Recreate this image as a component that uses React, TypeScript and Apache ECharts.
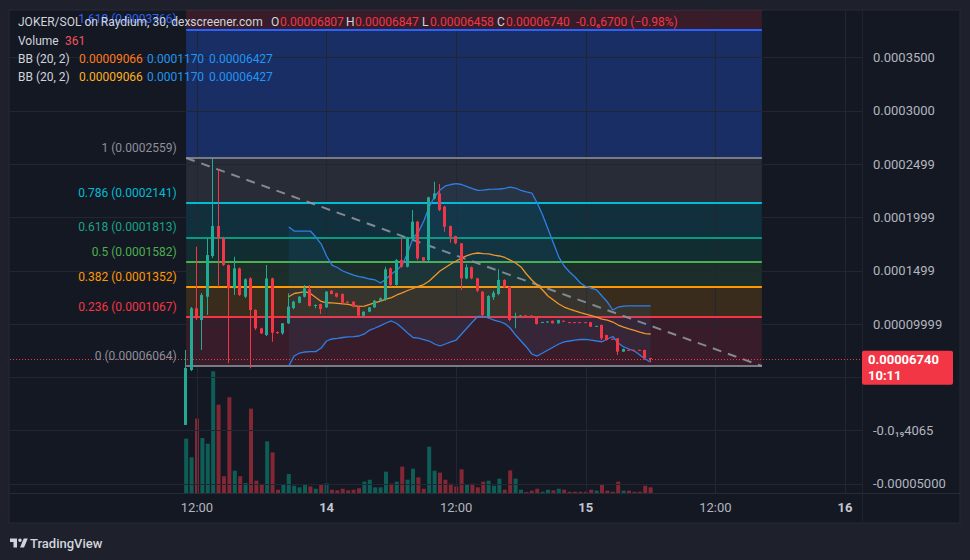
import React, { useEffect, useRef } from "react";
import * as echarts from "echarts";

const FONT = "Roboto, 'Noto Sans', 'DejaVu Sans', sans-serif";
const E5 = 1e-5; // all price arrays below are in units of 1e-5

// ---- time layout (hours since 13th 00:00) ----
const FIRST_CANDLE_HOUR = 11;
const CANDLE_HOURS = 0.5;
const X_MIN = -5.31;
const X_MAX = 73.57;
const Y_MIN = -5.857e-5;
const Y_MAX = 39.48e-5;

const TIME_TICKS = [12, 24, 36, 48, 60, 72];
const TIME_LABELS = ["12:00", "14", "12:00", "15", "12:00", "16"];
const PRICE_TICKS = [-0.00005, 0, 0.00005, 0.0001, 0.00015, 0.0002, 0.00025, 0.0003, 0.00035];
const PRICE_LABELS = ["-0.00005000", "-0.0\u2081\u20894065", "", "0.00009999", "0.0001499", "0.0001999", "0.0002499", "0.0003000", "0.0003500"];

// ---- candles (x1e-5) ----
const opensE5 = [0.53, 5.69, 11.48, 10.38, 12.57, 16.39, 19.2, 18.05, 15.54, 13.36,
  15.23, 12.57, 14.29, 11.32, 9.6, 8.97, 14.29, 9.25, 9.13, 10.07,
  11.5, 12.0, 12.57, 13.28, 11.75, 11.88, 11.57, 13.13, 12.89, 12.82,
  12.1, 12.1, 11.63, 10.78, 11.16, 11.57, 12.19, 12.32, 15.23, 13.67,
  16.01, 15.38, 18.0, 19.61, 16.27, 16.01, 21.8, 22.27, 21.02, 19.2,
  18.27, 17.58, 14.29, 15.33, 14.29, 13.04, 10.69, 12.51, 12.82, 14.14,
  13.51, 10.62, 10.79, 10.81, 10.8, 10.57, 10.17, 10.15, 10.31, 10.07,
  10.31, 10.18, 10.18, 10.18, 10.18, 10.17, 9.81, 9.91, 8.97, 8.62,
  8.66, 7.41, 7.58, 7.58, 7.58, 7.57, 6.807];
const highsE5 = [7.57, 11.6, 17.26, 12.92, 18.05, 25.59, 24.46, 18.2, 15.6, 16.32,
  15.3, 14.3, 14.4, 11.4, 9.65, 15.54, 14.35, 9.3, 10.1, 12.89,
  12.2, 12.6, 13.67, 13.67, 11.85, 11.9, 13.1, 13.2, 12.95, 12.9,
  12.15, 12.15, 11.7, 11.2, 11.6, 12.25, 12.5, 15.38, 15.3, 16.1,
  18.05, 18.2, 20.71, 19.7, 16.3, 21.95, 23.36, 23.15, 21.1, 19.25,
  18.3, 17.6, 15.61, 15.4, 14.35, 13.1, 12.7, 13.13, 15.14, 14.2,
  13.55, 11.07, 10.85, 10.84, 10.82, 10.6, 10.22, 10.27, 10.33, 10.4,
  10.33, 10.2, 10.2, 10.2, 10.2, 10.2, 9.85, 9.95, 9.0, 8.65,
  8.7, 7.7, 7.6, 7.6, 7.6, 7.6, 6.847];
const lowsE5 = [0.53, 5.6, 10.38, 7.57, 10.85, 16.2, 13.51, 15.45, 6.32, 12.73,
  12.63, 12.45, 5.85, 9.44, 9.07, 8.88, 8.34, 9.07, 9.0, 10.0,
  11.4, 11.95, 12.5, 11.65, 11.48, 10.94, 11.5, 12.8, 12.5, 11.9,
  11.95, 11.55, 10.57, 10.7, 11.1, 11.5, 12.1, 12.2, 13.5, 13.6,
  15.3, 15.3, 17.9, 16.0, 15.9, 15.9, 21.7, 20.6, 18.67, 17.64,
  17.5, 13.2, 14.2, 14.2, 13.0, 10.7, 10.54, 12.26, 12.7, 13.4,
  10.29, 9.6, 10.75, 10.76, 10.75, 9.95, 10.15, 10.12, 10.05, 10.05,
  10.22, 10.15, 10.15, 10.15, 10.15, 9.72, 9.78, 8.5, 8.45, 8.58,
  7.1, 7.38, 7.54, 7.54, 7.54, 6.65, 6.458];
const closesE5 = [5.88, 11.48, 10.54, 12.73, 16.48, 19.2, 18.05, 15.54, 13.36, 15.23,
  12.73, 14.2, 11.32, 9.6, 9.13, 14.29, 9.19, 9.15, 10.07, 11.63,
  12.1, 12.57, 13.36, 11.7, 11.79, 11.41, 13.04, 12.82, 12.57, 12.0,
  12.02, 11.63, 10.78, 11.16, 11.57, 12.19, 12.42, 15.14, 13.67, 16.01,
  15.38, 18.14, 19.61, 16.17, 15.95, 21.9, 22.27, 20.71, 19.14, 18.2,
  17.58, 14.29, 15.33, 14.29, 13.13, 10.85, 12.63, 12.94, 14.14, 13.45,
  10.38, 10.72, 10.81, 10.79, 10.78, 10.01, 10.19, 10.24, 10.07, 10.38,
  10.24, 10.17, 10.17, 10.17, 10.17, 9.75, 9.83, 8.66, 8.5, 8.6,
  7.41, 7.66, 7.56, 7.56, 7.56, 6.81, 6.74];
const volumes = [3440, 2260, 4710, 3480, 3120, 7700, 5590, 1060, 6060, 1410,
  1060, 630, 5340, 780, 530, 3270, 2570, 210, 530, 1200,
  460, 360, 530, 420, 270, 530, 610, 210, 170, 270,
  170, 210, 300, 720, 840, 360, 360, 1350, 590, 720,
  1670, 840, 1540, 990, 270, 2930, 1410, 1290, 840, 590,
  420, 1500, 530, 590, 360, 720, 780, 460, 910, 210,
  1430, 910, 210, 60, 150, 270, 80, 210, 170, 270,
  210, 80, 80, 80, 80, 210, 150, 530, 150, 80,
  720, 150, 150, 80, 80, 460, 361];

// ---- Bollinger Bands (20, 2), from candle index 19 (x1e-5) ----
const BB_FIRST = 19;
const bbUpperE5 = [19.11, 18.73, 18.73, 18.73, 18.73, 18.17, 17.51, 16.39, 15.54, 15.31,
  14.98, 14.79, 14.6, 14.46, 14.37, 14.23, 14.14, 13.85, 14.23, 14.7,
  15.07, 15.54, 16.67, 18.08, 18.64, 19.67, 20.99, 21.97, 22.58, 22.96,
  23.1, 23.19, 23.1, 22.91, 22.72, 22.54, 22.58, 22.65, 22.66, 22.68,
  22.74, 22.86, 22.77, 22.54, 22.4, 22.3, 21.36, 20.24, 18.92, 17.61,
  16.29, 15.45, 14.89, 14.42, 13.85, 13.53, 13.38, 13.2, 12.63, 12.07,
  11.32, 11.6, 11.69, 11.7, 11.7, 11.7, 11.7, 11.7];
const bbBasisE5 = [12.57, 12.87, 12.96, 13.04, 12.87, 12.49, 12.12, 12.0, 11.98, 11.95,
  11.9, 11.84, 11.74, 11.67, 11.69, 11.84, 12.02, 12.16, 12.35, 12.49,
  12.73, 12.92, 13.15, 13.34, 13.53, 13.71, 14.04, 14.51, 14.98, 15.31,
  15.64, 15.92, 16.2, 16.43, 16.58, 16.67, 16.62, 16.58, 16.48, 16.39,
  16.25, 16.01, 15.73, 15.36, 14.7, 14.14, 13.67, 13.2, 12.63, 12.26,
  11.88, 11.6, 11.41, 11.23, 11.08, 10.94, 10.8, 10.66, 10.47, 10.38,
  10.19, 9.91, 9.72, 9.54, 9.4, 9.25, 9.11, 9.066];
const bbLowerE5 = [6.06, 7.0, 7.28, 7.38, 7.41, 7.41, 7.75, 8.41, 8.6, 8.66,
  8.74, 8.8, 8.83, 8.88, 9.07, 9.44, 9.63, 9.86, 10.1, 10.29,
  10.05, 9.63, 9.16, 8.74, 8.69, 8.55, 8.41, 8.13, 7.94, 8.13,
  8.32, 8.5, 9.07, 9.63, 10.19, 10.71, 10.71, 10.57, 10.38, 10.24,
  10.05, 9.63, 8.97, 8.41, 7.85, 7.19, 7.0, 7.28, 7.57, 7.85,
  8.13, 8.32, 8.41, 8.5, 8.55, 8.57, 8.5, 8.41, 8.34, 8.6,
  8.83, 8.22, 7.85, 7.66, 7.47, 7.1, 6.72, 6.427];

// ---- Fibonacci retracement ----
const FIB_START = 11;
const FIB_END = 64.3;
const FIB_RATIOS = [0, 0.236, 0.382, 0.5, 0.618, 0.786, 1, 1.618, 2.618];
const FIB_PRICES = [0.00006064, 0.0001067, 0.0001352, 0.0001582, 0.0001813, 0.0002141, 0.0002559, 0.0003766, 0.0005718];
const FIB_COLORS = ["#787b86", "#f23645", "#ff9800", "#4caf50", "#089981", "#00bcd4", "#787b86", "#2962ff", "#f23645"];
const FIB_FILLS = ["", "rgba(242,54,69,0.17)", "rgba(255,152,0,0.16)", "rgba(76,175,80,0.15)", "rgba(8,153,129,0.16)", "rgba(0,188,212,0.15)", "rgba(120,123,134,0.2)", "rgba(41,98,255,0.3)", "rgba(242,54,69,0.17)"];
const FIB_TEXT_COLORS = ["#8d909a", "#f23645", "#ff9800", "#4caf50", "#1aa38a", "#00bcd4", "#8d909a", "#2f66f0", "#f23645"];

const COUNTDOWN = "10:11";
const CHANGE_TEXT = "-0.0\u20866700 (\u22120.98%)";

const UP = "#22ab94";
const DOWN = "#f23645";
const VOL_UP = "rgba(8,153,129,0.55)";
const VOL_DOWN = "rgba(242,54,69,0.5)";
const GRID_COLOR = "#222632";
const TV_LOGO_D = "M14 22H7V11H0V4h14v18zM28 22h-8l7.5-18h8L28 22zM20 4a3.5 3.5 0 1 1 0 7a3.5 3.5 0 1 1 0-7z";

const candleTime = (i: number) => FIRST_CANDLE_HOUR + i * CANDLE_HOURS;

export default function App() {
  const ref = useRef<HTMLDivElement>(null);
  useEffect(() => {
    if (!ref.current) return;
    try {
      echarts.graphic.registerShape("tvlogo", echarts.graphic.extendPath(TV_LOGO_D, {}));
    } catch (e) {}
    const chart = echarts.init(ref.current, null, { renderer: "svg" });

    const candleData = opensE5.map((o, i) => [candleTime(i), o * E5, closesE5[i] * E5, lowsE5[i] * E5, highsE5[i] * E5]);
    const volData = volumes.map((v, i) => ({
      value: [candleTime(i), v],
      itemStyle: { color: closesE5[i] >= opensE5[i] ? VOL_UP : VOL_DOWN },
    }));
    const bbLine = (arr: number[]) => arr.map((v, k) => [candleTime(BB_FIRST + k), v * E5]);

    const fibBands: any[] = [];
    for (let i = 1; i < FIB_PRICES.length; i++) {
      fibBands.push([
        { xAxis: FIB_START, yAxis: Math.min(FIB_PRICES[i], Y_MAX), itemStyle: { color: FIB_FILLS[i] } },
        { xAxis: FIB_END, yAxis: FIB_PRICES[i - 1] },
      ]);
    }
    const fibLines: any[] = [];
    for (let i = 0; i < 8; i++) {
      fibLines.push([
        { coord: [FIB_START, FIB_PRICES[i]], lineStyle: { color: FIB_COLORS[i], width: 2, type: "solid" } },
        { coord: [FIB_END, FIB_PRICES[i]] },
      ]);
    }
    fibLines.push([
      { coord: [FIB_START, FIB_PRICES[6]], lineStyle: { color: "rgba(150,153,161,0.85)", width: 2, type: [9, 7] } },
      { coord: [FIB_END, FIB_PRICES[0]] },
    ]);

    const last = closesE5.length - 1;
    const lastClose = closesE5[last] * E5;

    const option: any = {
      animation: false,
      backgroundColor: "#1e212b",
      textStyle: { fontFamily: FONT },
      grid: [
        { left: 10, top: 10, width: 852, height: 483, containLabel: false, outerBoundsMode: "none" },
        { left: 10, top: 335, width: 852, height: 158, containLabel: false, outerBoundsMode: "none" },
      ],
      xAxis: [
        {
          type: "value", gridIndex: 0, min: X_MIN, max: X_MAX,
          axisLine: { show: false }, axisTick: { show: false }, splitLine: { show: false },
          axisLabel: {
            customValues: TIME_TICKS,
            margin: 8,
            color: "#b2b5be",
            fontSize: 13,
            fontFamily: FONT,
            formatter: (v: number) => {
              const i = TIME_TICKS.findIndex((t) => Math.abs(t - v) < 1e-6);
              if (i < 0) return "";
              const s = TIME_LABELS[i];
              return s.indexOf(":") >= 0 ? s : "{d|" + s + "}";
            },
            rich: { d: { fontWeight: "bold", color: "#c4c7cf", fontSize: 13, fontFamily: FONT } },
          },
        },
        { type: "value", gridIndex: 1, min: X_MIN, max: X_MAX, show: false },
      ],
      yAxis: [
        {
          type: "value", gridIndex: 0, position: "right", min: Y_MIN, max: Y_MAX,
          axisLine: { show: false }, axisTick: { show: false }, splitLine: { show: false },
          axisLabel: {
            customValues: PRICE_TICKS,
            margin: 11,
            color: "#b2b5be",
            fontSize: 13,
            fontFamily: FONT,
            formatter: (v: number) => {
              const i = PRICE_TICKS.findIndex((t) => Math.abs(t - v) < 1e-10);
              return i >= 0 ? PRICE_LABELS[i] : "";
            },
          },
        },
        { type: "value", gridIndex: 1, min: 0, max: 10000, show: false },
      ],
      series: [
        {
          name: "gridlines", type: "line", xAxisIndex: 0, yAxisIndex: 0, data: [], z: 1, silent: true,
          markLine: {
            silent: true, symbol: ["none", "none"], label: { show: false }, precision: 12,
            lineStyle: { color: GRID_COLOR, width: 1, type: "solid" },
            data: [...TIME_TICKS.map((v) => ({ xAxis: v })), ...PRICE_TICKS.map((v) => ({ yAxis: v }))],
          },
        },
        {
          name: "fib", type: "line", xAxisIndex: 0, yAxisIndex: 0, data: [], z: 3, silent: true,
          markArea: { silent: true, label: { show: false }, data: fibBands },
          markLine: { silent: true, symbol: ["none", "none"], label: { show: false }, precision: 12, data: fibLines },
        },
        {
          name: "volume", type: "bar", xAxisIndex: 1, yAxisIndex: 1, data: volData, barWidth: 4, z: 4, silent: true,
        },
        {
          name: "bbfill", type: "custom", xAxisIndex: 0, yAxisIndex: 0, data: [[BB_FIRST]], z: 5, silent: true,
          renderItem: (params: any, api: any) => {
            const pts: number[][] = [];
            for (let k = 0; k < bbUpperE5.length; k++) pts.push(api.coord([candleTime(BB_FIRST + k), bbUpperE5[k] * E5]));
            for (let k = bbLowerE5.length - 1; k >= 0; k--) pts.push(api.coord([candleTime(BB_FIRST + k), bbLowerE5[k] * E5]));
            return { type: "polygon", shape: { points: pts }, style: { fill: "rgba(33,150,243,0.08)" } };
          },
        },
        {
          name: "bbUpper", type: "line", xAxisIndex: 0, yAxisIndex: 0, data: bbLine(bbUpperE5), z: 8,
          symbol: "none", showSymbol: false, silent: true, lineStyle: { color: "#2f7fe6", width: 1.3 },
        },
        {
          name: "bbLower", type: "line", xAxisIndex: 0, yAxisIndex: 0, data: bbLine(bbLowerE5), z: 8,
          symbol: "none", showSymbol: false, silent: true, lineStyle: { color: "#2f7fe6", width: 1.3 },
        },
        {
          name: "bbBasis", type: "line", xAxisIndex: 0, yAxisIndex: 0, data: bbLine(bbBasisE5), z: 8,
          symbol: "none", showSymbol: false, silent: true, lineStyle: { color: "#f2952a", width: 1.3 },
        },
        {
          name: "candles", type: "custom", xAxisIndex: 0, yAxisIndex: 0, data: candleData, z: 10, silent: true,
          encode: { x: 0, y: [1, 2, 3, 4] },
          renderItem: (params: any, api: any) => {
            const t = api.value(0), o = api.value(1), c = api.value(2), l = api.value(3), h = api.value(4);
            const pO = api.coord([t, o]);
            const pC = api.coord([t, c]);
            const pL = api.coord([t, l]);
            const pH = api.coord([t, h]);
            const xc = Math.round(pO[0]) - 1;
            const color = c >= o ? UP : DOWN;
            const top = Math.min(pO[1], pC[1]);
            const bh = Math.max(1, Math.abs(pO[1] - pC[1]));
            return {
              type: "group",
              children: [
                { type: "rect", shape: { x: xc, y: pH[1], width: 1, height: Math.max(1, pL[1] - pH[1]) }, style: { fill: color } },
                { type: "rect", shape: { x: xc - 1, y: top, width: 3, height: bh }, style: { fill: color } },
              ],
            };
          },
        },
        {
          name: "priceLine", type: "line", xAxisIndex: 0, yAxisIndex: 0, data: [], z: 11, silent: true,
          markLine: {
            silent: true, symbol: ["none", "none"], label: { show: false }, precision: 12,
            lineStyle: { color: DOWN, width: 1, type: [1, 2] },
            data: [{ yAxis: lastClose }],
          },
        },
      ],
    };
    chart.setOption(option);

    // ---- second pass: graphics positioned through the chart's scales ----
    const toPx = (x: number, y: number) => chart.convertToPixel({ gridIndex: 0 }, [x, y]) as number[];
    const txt = (id: string, text: string, x: number, y: number, fill: string, extra: any = {}) => ({
      type: "text", id, z: 50, silent: true,
      style: {
        text, x, y, fill, fontSize: 12, fontFamily: FONT,
        align: "left", verticalAlign: "middle", textAlign: "left", textVerticalAlign: "middle", ...extra,
      },
    });
    const g: any[] = [
      { type: "rect", id: "frame", z: -10, silent: true, shape: { x: 9, y: 10, width: 951, height: 513 }, style: { fill: "#141823", stroke: "#272b36", lineWidth: 1 } },
      { type: "line", id: "sepH", z: -9, silent: true, shape: { x1: 9, y1: 493.5, x2: 960, y2: 493.5 }, style: { stroke: "#272b36", lineWidth: 1 } },
      { type: "line", id: "sepV", z: -9, silent: true, shape: { x1: 862.5, y1: 10, x2: 862.5, y2: 523 }, style: { stroke: "#1f232d", lineWidth: 1 } },
    ];
    // fib labels
    for (let i = 0; i < 8; i++) {
      const [x, y] = toPx(FIB_START, FIB_PRICES[i]);
      g.push(txt("fib" + i, FIB_RATIOS[i] + " (" + FIB_PRICES[i].toPrecision(4) + ")", x - 9.5, y - 10, FIB_TEXT_COLORS[i], { align: "right", textAlign: "right" }));
    }
    // legend
    const o = opensE5[last] * E5, h = highsE5[last] * E5, l = lowsE5[last] * E5;
    const L1 = 22, L2 = 40.5, L3 = 59, L4 = 77;
    const TXT = "#d1d4dc";
    g.push(txt("l1", "JOKER/SOL on Raydium, 30, dexscreener.com", 18, L1, TXT));
    g.push(txt("lO", "O", 271, L1, TXT));
    g.push(txt("lOv", o.toFixed(8), 280, L1, DOWN));
    g.push(txt("lH", "H", 346, L1, TXT));
    g.push(txt("lHv", h.toFixed(8), 355, L1, DOWN));
    g.push(txt("lL", "L", 422, L1, TXT));
    g.push(txt("lLv", l.toFixed(8), 430, L1, DOWN));
    g.push(txt("lC", "C", 497, L1, TXT));
    g.push(txt("lCv", lastClose.toFixed(8), 506, L1, DOWN));
    g.push(txt("lch", CHANGE_TEXT, 576, L1, DOWN));
    g.push(txt("l2", "Volume", 18, L2, TXT));
    g.push(txt("l2v", String(volumes[last]), 65, L2, "#f7525f"));
    const bbL = bbUpperE5.length - 1;
    g.push(txt("l3", "BB (20, 2)", 18, L3, TXT));
    g.push(txt("l3a", (bbBasisE5[bbL] * E5).toFixed(8), 79, L3, "#ff7a1a"));
    g.push(txt("l3b", (bbUpperE5[bbL] * E5).toPrecision(4), 147, L3, "#2196f3"));
    g.push(txt("l3c", (bbLowerE5[bbL] * E5).toFixed(8), 209, L3, "#2196f3"));
    g.push(txt("l4", "BB (20, 2)", 18, L4, TXT));
    g.push(txt("l4a", (bbBasisE5[bbL] * E5).toFixed(8), 79, L4, "#ffb020"));
    g.push(txt("l4b", (bbUpperE5[bbL] * E5).toPrecision(4), 147, L4, "#2196f3"));
    g.push(txt("l4c", (bbLowerE5[bbL] * E5).toFixed(8), 209, L4, "#2196f3"));
    // last price label
    const [, py] = toPx(X_MAX, lastClose);
    g.push({ type: "rect", id: "pbox", z: 40, silent: true, shape: { x: 862, y: py - 8, width: 91, height: 34, r: 2 }, style: { fill: DOWN } });
    g.push(txt("pval", lastClose.toFixed(8), 868, py + 1, "#ffffff", { fontSize: 13, fontWeight: "bold" }));
    g.push(txt("ptime", COUNTDOWN, 868, py + 17, "#ffffff", { fontSize: 13, fontWeight: "bold" }));
    // TradingView logo
    g.push({ type: "tvlogo", id: "logo", z: 50, silent: true, x: 10, y: 536.5, scaleX: 0.5, scaleY: 0.5, style: { fill: "#d1d4dc" } });
    g.push(txt("logoText", "TradingView", 30, 543, "#d1d4dc", { fontSize: 13, fontWeight: 500 }));

    chart.setOption({ graphic: { elements: g } });

    return () => chart.dispose();
  }, []);
  return <div ref={ref} style={{ position: "fixed", left: 0, top: 0, width: 970, height: 560 }} />;
}
